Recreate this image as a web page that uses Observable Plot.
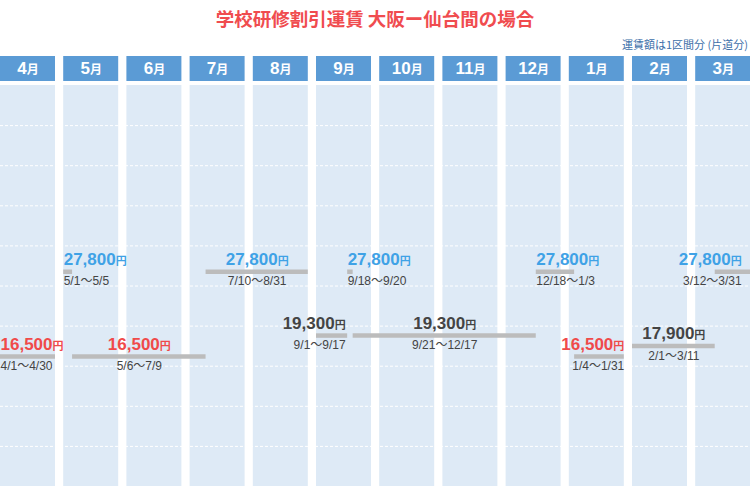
<!DOCTYPE html>
<html><head><meta charset="utf-8">
<script src="https://cdn.jsdelivr.net/npm/d3@7"></script>
<script src="https://cdn.jsdelivr.net/npm/@observablehq/plot@0.6"></script>
<style>
html,body{margin:0;padding:0;background:#fff;}
#wrap{width:750px;height:486px;overflow:hidden;font-family:"Liberation Sans","Noto Sans CJK JP",sans-serif;}
#title{height:36px;line-height:36px;text-align:center;color:#f04c4f;font-weight:bold;font-size:18.5px;font-family:"Noto Sans CJK JP",sans-serif;}
#note{height:16px;line-height:16px;text-align:right;color:#3d6fa9;font-size:11px;padding-right:2px;font-family:"Noto Sans CJK JP",sans-serif;}
#head{margin-top:4px;height:25px;}
#main{margin-top:4px;height:401px;}
svg{display:block;}
</style></head><body>
<div id="wrap">
<div id="title">学校研修割引運賃 大阪ー仙台間の場合</div>
<div id="note">運賃額は1区間分 (片道分)</div>
<div id="head"></div>
<div id="main"></div>
</div>
<script>
// ---- data ----
const months = ["4月","5月","6月","7月","8月","9月","10月","11月","12月","1月","2月","3月"];
const startDates = ["4/1","5/1","5/6","7/10","9/1","9/18","9/21","12/18","1/4","2/1","3/12"];
const endDates   = ["4/30","5/5","7/9","8/31","9/17","9/20","12/17","1/3","1/31","3/11","3/31"];
const fares      = [16500, 27800, 16500, 27800, 19300, 27800, 19300, 27800, 16500, 17900, 27800];
const fiscalYear = 2023;

// ---- layout / style ----
const labelAlign = ["start","start","middle","middle","end","start","middle","start","end","middle","end"];
const labelShift = [0,0,0,0,-2,0,0,0,0,0,-9]; // px
const pitch = 63.2, colW = 55;
const colFrac = colW / pitch;
const xRange = [0, 12 * pitch];
const fareColor = f => f === 16500 ? "#f04a4a" : f === 27800 ? "#3fa2e6" : "#444444";
const font = '"Liberation Sans","Noto Sans CJK JP",sans-serif';

function pos(md, isEnd) {
  const [m, d] = md.split("/").map(Number);
  const i = (m + 8) % 12;
  const yr = m >= 4 ? fiscalYear : fiscalYear + 1;
  const days = new Date(yr, m, 0).getDate();
  return i + (isEnd ? d : d - 1) / days * colFrac;
}

const segs = startDates.map((s, k) => ({
  x1: pos(s, false),
  x2: pos(endDates[k], true),
  fare: fares[k],
  period: `${s}～${endDates[k]}`,
  price: d3.format(",")(fares[k]) + "円",
  align: labelAlign[k],
  shift: labelShift[k]
}));
const lx = d => (d.align === "start" ? d.x1 : d.align === "end" ? d.x2 : (d.x1 + d.x2) / 2) + d.shift / pitch;

function splitLast(t, size) {
  const s = t.textContent;
  t.textContent = "";
  const a = document.createElementNS("http://www.w3.org/2000/svg", "tspan");
  a.textContent = s.slice(0, -1);
  const b = document.createElementNS("http://www.w3.org/2000/svg", "tspan");
  b.textContent = s.slice(-1);
  b.setAttribute("font-size", size);
  t.appendChild(a); t.appendChild(b);
}

// header
const head = Plot.plot({
  width: 750, height: 25, margin: 0,
  style: {fontFamily: font, background: "transparent"},
  x: {domain: [0, 12], range: xRange, axis: null},
  marks: [
    Plot.rect(months, {x1: (d, i) => i, x2: (d, i) => i + 1, insetRight: pitch - colW, fill: "#5b9bd5"}),
    Plot.text(months, {x: (d, i) => i + colFrac / 2, text: d => d, fill: "white", fontWeight: "bold", fontSize: 17, ariaDescription: "month"})
  ]
});
head.querySelectorAll('g[aria-description="month"] text').forEach(t => splitLast(t, 12));
document.getElementById("head").appendChild(head);

// main
const yDom = [-800, 52600];
const marks = [
  Plot.rect(months, {x1: (d, i) => i, x2: (d, i) => i + 1, insetRight: pitch - colW, fill: "#deeaf6"}),
  Plot.ruleY(d3.range(1, 10).map(k => yDom[0] + (yDom[1] - yDom[0]) * k / 10), {stroke: "white", strokeDasharray: "3,2", strokeWidth: 1}),
  Plot.ruleY(segs, {x1: "x1", x2: "x2", y: "fare", stroke: "#bcbcbc", strokeWidth: 4.5})
];
for (const a of ["start", "middle", "end"]) {
  const sub = segs.filter(d => d.align === a);
  marks.push(Plot.text(sub, {x: lx, y: "fare", text: "price", textAnchor: a, lineAnchor: "bottom", dy: -7, fontSize: 17, fontWeight: "bold", fill: d => fareColor(d.fare), ariaDescription: "price"}));
  marks.push(Plot.text(sub, {x: lx, y: "fare", text: "period", textAnchor: a, lineAnchor: "bottom", dy: 13.5, fontSize: 12, fill: "#444444"}));
}
const main = Plot.plot({
  width: 750, height: 401, margin: 0,
  style: {fontFamily: font, background: "transparent"},
  x: {domain: [0, 12], range: xRange, axis: null},
  y: {domain: yDom, range: [401, 0], axis: null},
  color: {type: "identity"},
  marks
});
main.querySelectorAll('g[aria-description="price"] text').forEach(t => splitLast(t, 11));
document.getElementById("main").appendChild(main);
</script>
</body></html>
